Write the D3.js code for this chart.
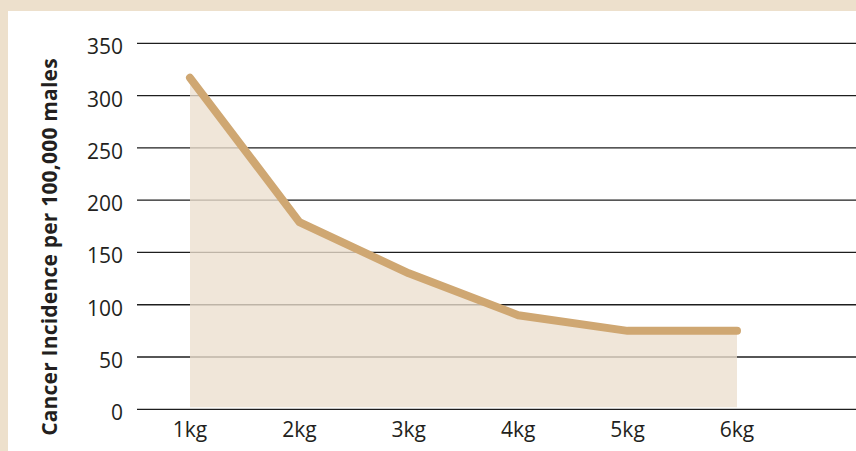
<!DOCTYPE html>
<html>
<head>
<meta charset="utf-8">
<script src="https://cdn.jsdelivr.net/npm/d3@7/dist/d3.min.js"></script>
<style>
  html, body { margin: 0; padding: 0; background: #ede0cc; }
  svg { display: block; }
  text { font-family: "Open Sans", "Noto Sans", sans-serif; fill: #231f20; }
</style>
</head>
<body>
<svg id="chart" width="856" height="451"></svg>
<script>
// Birth weight categories and cancer incidence per 100,000 males
const categories = ["1kg", "2kg", "3kg", "4kg", "5kg", "6kg"];
const incidence = [317, 179, 130, 90, 75, 75];
const yTicks = [0, 50, 100, 150, 200, 250, 300, 350];
const yTitle = "Cancer Incidence per 100,000 males";

const W = 856, H = 451;
const svg = d3.select("#chart");

// beige frame with white panel
svg.append("rect").attr("width", W).attr("height", H).attr("fill", "#ede0cc");
svg.append("rect").attr("x", 8).attr("y", 11).attr("width", W - 8).attr("height", H - 11).attr("fill", "#ffffff");

const x = d3.scalePoint().domain(categories).range([190, 737]);
const y = d3.scaleLinear().domain([0, 350]).range([409.3, 43.3]);

// horizontal gridlines
svg.append("g")
  .selectAll("line")
  .data(yTicks)
  .join("line")
  .attr("x1", 137).attr("x2", W)
  .attr("y1", d => y(d)).attr("y2", d => y(d))
  .attr("stroke", "#1e1e1e")
  .attr("stroke-width", 1.3);

// y tick labels
svg.append("g")
  .selectAll("text")
  .data(yTicks)
  .join("text")
  .attr("x", 123)
  .attr("y", d => y(d) + 3)
  .attr("text-anchor", "end")
  .attr("dominant-baseline", "central")
  .style("font-size", "21px")
  .text(d => d);

// shaded area under the line (semi-transparent so gridlines show through)
const area = d3.area()
  .x((d, i) => x(categories[i]))
  .y0(y(0) - 2)
  .y1(d => y(d));
svg.append("path")
  .datum(incidence)
  .attr("d", area)
  .attr("fill", "rgb(236,223,206)")
  .attr("fill-opacity", 0.78);

// incidence line
const line = d3.line()
  .x((d, i) => x(categories[i]))
  .y(d => y(d));
svg.append("path")
  .datum(incidence)
  .attr("d", line)
  .attr("fill", "none")
  .attr("stroke", "#cfa772")
  .attr("stroke-width", 8)
  .attr("stroke-linecap", "round")
  .attr("stroke-linejoin", "round");

// x axis labels
svg.append("g")
  .selectAll("text")
  .data(categories)
  .join("text")
  .attr("x", d => x(d))
  .attr("y", 437)
  .attr("text-anchor", "middle")
  .style("font-size", "21px")
  .text(d => d);

// y axis title
svg.append("text")
  .attr("transform", "translate(57,247) rotate(-90)")
  .attr("text-anchor", "middle")
  .style("font-size", "21px")
  .style("font-weight", "bold")
  .style("letter-spacing", "0.2px")
  .text(yTitle);
</script>
</body>
</html>
